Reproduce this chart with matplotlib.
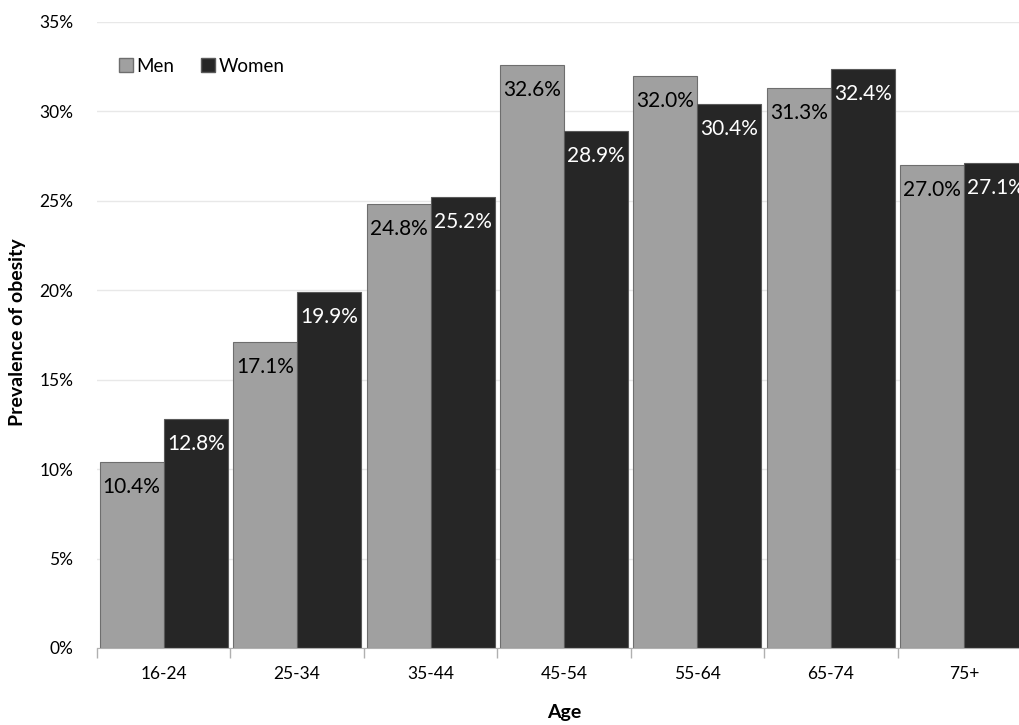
import numpy as np
import matplotlib.pyplot as plt
from matplotlib.patches import Patch
from matplotlib.ticker import PercentFormatter, FixedLocator

# ---- data ----
age_groups = ['16-24', '25-34', '35-44', '45-54', '55-64', '65-74', '75+']
men = [10.4, 17.1, 24.8, 32.6, 32.0, 31.3, 27.0]
women = [12.8, 19.9, 25.2, 28.9, 30.4, 32.4, 27.1]

men_color = '#a0a0a0'
women_color = '#262626'

plt.rcParams['font.family'] = ['Lato', 'DejaVu Sans']

fig = plt.figure(figsize=(10.19, 7.25), dpi=100)
# axes runs past the right edge on purpose (reference is cropped there)
ax = fig.add_axes([97 / 1019, 77 / 725, 934 / 1019, 626 / 725])

x = np.arange(len(age_groups))
w = 0.48
bars_m = ax.bar(x - w / 2, men, w, color=men_color, edgecolor='#6e6e6e', linewidth=0.8, zorder=2)
bars_w = ax.bar(x + w / 2, women, w, color=women_color, edgecolor='#5a5a5a', linewidth=0.8, zorder=2)

for b, v in zip(bars_m, men):
    ax.annotate(f'{v:.1f}%', (b.get_x() + b.get_width() / 2, v), xytext=(0, -18),
                textcoords='offset points', ha='center', va='center',
                fontsize=15, color='black', zorder=3)
for b, v in zip(bars_w, women):
    ax.annotate(f'{v:.1f}%', (b.get_x() + b.get_width() / 2, v), xytext=(0, -18),
                textcoords='offset points', ha='center', va='center',
                fontsize=15, color='white', zorder=3)

ax.set_xlim(-0.5, len(age_groups) - 0.5)
ax.set_ylim(0, 35)
ax.set_yticks(np.arange(0, 36, 5))
ax.yaxis.set_major_formatter(PercentFormatter(decimals=0))
ax.grid(axis='y', color='#e8e8e8', linewidth=1, zorder=0)
ax.set_axisbelow(True)

ax.set_xticks(x)
ax.set_xticklabels(age_groups)
ax.xaxis.set_minor_locator(FixedLocator(np.arange(-0.5, len(age_groups), 1)))
ax.tick_params(axis='x', which='major', length=0, pad=13, labelsize=12.5)
ax.tick_params(axis='x', which='minor', length=7, color='#b0b0b0', width=1)
ax.tick_params(axis='y', length=0, pad=17, labelsize=12.5)

for s in ['top', 'right', 'left']:
    ax.spines[s].set_visible(False)
ax.spines['bottom'].set_color('#b0b0b0')

ax.set_xlabel('Age', fontsize=14, fontweight='bold', labelpad=16)
fig.text(18 / 1019, 1 - 332 / 725, 'Prevalence of obesity', rotation=90,
         fontsize=14, fontweight='bold', ha='center', va='center')

handles = [Patch(facecolor=men_color, edgecolor='#6e6e6e', label='Men'),
           Patch(facecolor=women_color, edgecolor='#5a5a5a', label='Women')]
leg = ax.legend(handles=handles, loc='upper left', ncol=2, frameon=False,
                bbox_to_anchor=(0.005, 0.97), fontsize=13.5, handlelength=0.75,
                handleheight=0.75, handletextpad=0.2, columnspacing=1.4)

fig.savefig('out.png', dpi=100)
